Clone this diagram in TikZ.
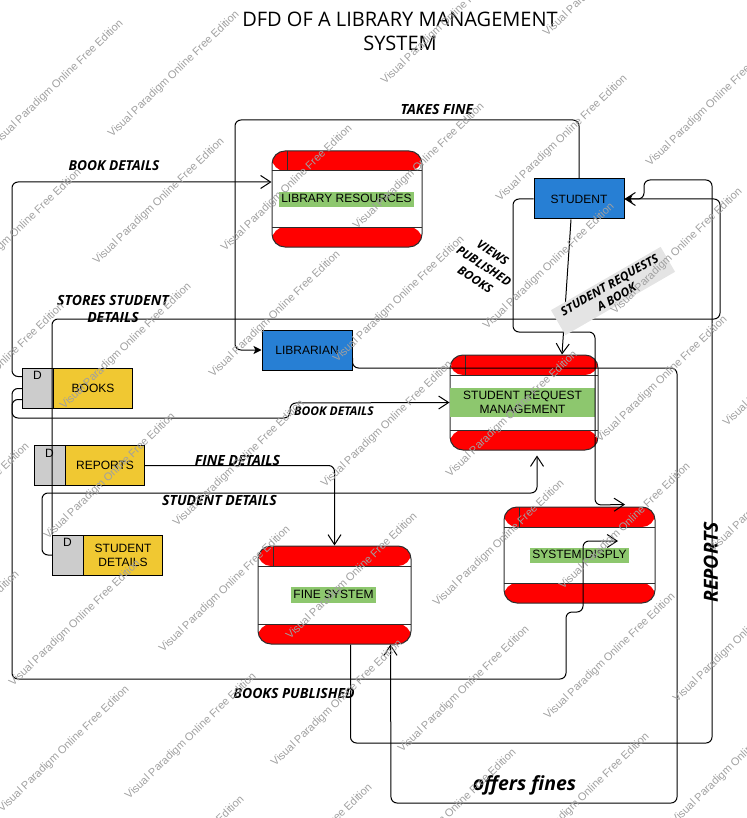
\documentclass[tikz,border=0pt]{standalone}
\usepackage{fontspec}
\setmainfont{Liberation Sans}
\newfontfamily\labelfont{Open Sans}
\usetikzlibrary{arrows.meta,calc}

\definecolor{procred}{RGB}{255,0,0}
\definecolor{procgreen}{RGB}{141,199,110}
\definecolor{entblue}{RGB}{39,127,212}
\definecolor{storeyellow}{RGB}{240,200,50}
\definecolor{storegray}{RGB}{204,204,204}
\definecolor{notegray}{RGB}{228,228,228}
\definecolor{markgray}{RGB}{160,160,160}
\definecolor{edgedark}{RGB}{45,45,45}

\begin{document}
\begin{tikzpicture}[x=1pt,y=-1pt,
  every node/.style={inner sep=0pt},
  boxfont/.style={font=\fontsize{12}{14}\selectfont},
  flow/.style={draw=black, line width=1pt, rounded corners=6pt},
  openhead/.style={-{Straight Barb[length=10pt,width=13pt]}},
  solidhead/.style={-{Stealth[length=8pt,width=8pt,inset=2pt]}},
  proc/.style={draw=edgedark, line width=1pt, rounded corners=13pt, fill=white,
    path picture={
      \fill[procred] (path picture bounding box.north west) rectangle ([yshift=-20pt]path picture bounding box.north east);
      \fill[procred] (path picture bounding box.south west) rectangle ([yshift=20pt]path picture bounding box.south east);
      \draw[edgedark, line width=1pt] ([yshift=-20pt]path picture bounding box.north west) -- ([yshift=-20pt]path picture bounding box.north east);
      \draw[edgedark, line width=1pt] ([yshift=20pt]path picture bounding box.south west) -- ([yshift=20pt]path picture bounding box.south east);
      \draw[edgedark, line width=1pt] ([xshift=15pt]path picture bounding box.north west) -- ([xshift=15pt,yshift=-20pt]path picture bounding box.north west);
    }},
  ptext/.style={boxfont, fill=procgreen, inner xsep=2.5pt, inner ysep=2pt, text height=9pt, text depth=2.5pt},
  entity/.style={boxfont, draw=black, line width=1pt, fill=entblue, minimum width=90pt, minimum height=40pt},
  store/.style={draw=black, line width=1pt, fill=storeyellow, minimum width=110pt, minimum height=40pt,
    path picture={
      \fill[storegray] (path picture bounding box.north west) rectangle ([xshift=31pt]path picture bounding box.south west);
      \draw[black, line width=1pt] ([xshift=31pt]path picture bounding box.north west) -- ([xshift=31pt]path picture bounding box.south west);
    }},
  storetext/.style={boxfont, align=center},
  flowlabel/.style={font=\labelfont\bfseries\itshape\fontsize{14}{17}\selectfont, align=center},
  smalllabel/.style={font=\labelfont\bfseries\itshape\fontsize{12}{16}\selectfont, align=center},
  biglabel/.style={font=\labelfont\bfseries\itshape\fontsize{19.5}{22}\selectfont, align=center},
  wmark/.style={anchor=base west, rotate=44, text=markgray, font=\fontsize{11}{11}\selectfont}
]
\useasboundingbox (0,0) rectangle (746,818);

% title
\node[font=\labelfont\fontsize{20}{24}\selectfont, align=center] (title) at (400,31)
  {DFD OF A LIBRARY MANAGEMENT\\SYSTEM};

% processes
\node[proc, minimum width=150pt, minimum height=96pt] (libres) at (347,199) {};
\node[proc, minimum width=148pt, minimum height=95pt] (srm) at (524,402.5) {};
\node[proc, minimum width=151pt, minimum height=96pt] (sysd) at (579.5,555) {};
\node[proc, minimum width=153pt, minimum height=98pt] (fine) at (334.5,595) {};

\node[ptext] (libres-t) at (346.5,199.5) {LIBRARY RESOURCES};
\node[boxfont, fill=procgreen, text width=145pt, align=center, inner ysep=3.5pt] (srm-t) at (522.5,402.5)
  {STUDENT REQUEST\\MANAGEMENT};
\node[ptext] (sysd-t) at (579.5,555.5) {SYSTEM DISPLY};
\node[ptext] (fine-t) at (333.5,595) {FINE SYSTEM};

% external entities
\node[entity] (student) at (579,199) {STUDENT};
\node[entity] (librarian) at (307,350) {LIBRARIAN};

% data stores
\node[store] (books) at (77.5,388) {};
\node[store] (reports) at (89.5,465.5) {};
\node[store] (studdet) at (107.5,555) {};
\node[storetext] (books-t) at ([xshift=15.5pt]books.center) {BOOKS};
\node[storetext] (reports-t) at ([xshift=15.5pt]reports.center) {REPORTS};
\node[storetext, font=\fontsize{12}{14}\selectfont] (studdet-t) at ([xshift=15.5pt]studdet.center) {STUDENT\\DETAILS};
\node[boxfont] (books-d) at ([xshift=15.5pt,yshift=-8pt]books.north west) {D};
\node[boxfont] (reports-d) at ([xshift=15.5pt,yshift=-8pt]reports.north west) {D};
\node[boxfont] (studdet-d) at ([xshift=15.5pt,yshift=-8pt]studdet.north west) {D};

% data flows
\draw[flow,openhead] ([yshift=-9pt]books.north west) -| (12,182) -- ([yshift=17pt]libres.west);
\draw[flow,solidhead] (student.north) |- (235,120) |- (librarian.west);
\draw[flow,openhead] (studdet.north west) |- (720,319) |- (student.east);
\draw[flow,openhead] ([xshift=-8pt]student.south) -- ([xshift=38pt]srm.north);
\draw[flow,solidhead] ([xshift=16pt]fine.south) |- (712,743) |- (644,180) |- (student.east);
\draw[flow,openhead] ([yshift=-8pt]librarian.east) |- (677,368) |- (391,803) -- ([xshift=56pt]fine.south);
\draw[flow,openhead] ([yshift=-21pt]books.north west) -| (12,679) -| (566,612) -| (583,541) -- ([xshift=38.5pt,yshift=14pt]sysd.center);
\draw[flow,openhead] ([yshift=-32pt]books.north west) -| (12,418) -| (290,403) -- (srm.west);
\draw[flow,openhead] (reports.east) -| (fine.north);
\draw[flow,openhead] (studdet.west) -| (42,493) -| ([xshift=13pt,yshift=-5pt]srm.south);
\draw[flow,openhead] (student.west) -| (513,332) -| (595,505) -- ([xshift=45.5pt,yshift=2pt]sysd.north);

% flow labels
\node[flowlabel, font=\labelfont\bfseries\itshape\fontsize{13.7}{16}\selectfont] (l-bookdet1) at (114,166) {BOOK DETAILS};
\node[flowlabel] (l-takes) at (437,110) {TAKES FINE};
\node[flowlabel] (l-stores) at (113,308.5) {STORES STUDENT\\DETAILS};
\node[smalllabel, rotate=-33] (l-views) at (484,266) {VIEWS\\PUBLISHED\\BOOKS};
\node[smalllabel, fill=notegray, rotate=30, inner xsep=8pt, inner ysep=3pt, font=\labelfont\bfseries\itshape\fontsize{12}{14}\selectfont] (l-request) at (613,291) {STUDENT REQUESTS\\A BOOK};
\node[smalllabel] (l-bookdet2) at (334,411) {BOOK DETAILS};
\node[flowlabel] (l-finedet) at (237.5,460) {FINE DETAILS};
\node[flowlabel] (l-studdet) at (219.5,500) {STUDENT DETAILS};
\node[flowlabel] (l-published) at (294,693) {BOOKS PUBLISHED};
\node[biglabel] (l-offers) at (524.5,785) {offers fines};
\node[biglabel, rotate=90] (l-reports) at (711,562.5) {REPORTS};

% edition marks
\foreach \wx/\wy [count=\k] in {-4/147, 112/138, 97/265, 225/252, 213/378, 64/410, -63/430, -46/296,
    337/363, 357/230, 500/202, 650/167, 487/330, 615/315, 547/37, 385/85, -98/570, 177/527,
    48/540, 325/488, 450/478, 600/443, 727/427, 437/607, 563/590, 713/553, 290/640, 163/653,
    13/687, -108/698, 129/800, 2/813, 275/767, 402/753, 548/720, 677/703, 389/876, 522/860,
    675/825, 117/923, 245/911}
  \node[wmark] (wm\k) at (\wx,\wy) {Visual Paradigm Online Free Edition};
\end{tikzpicture}
\end{document}
